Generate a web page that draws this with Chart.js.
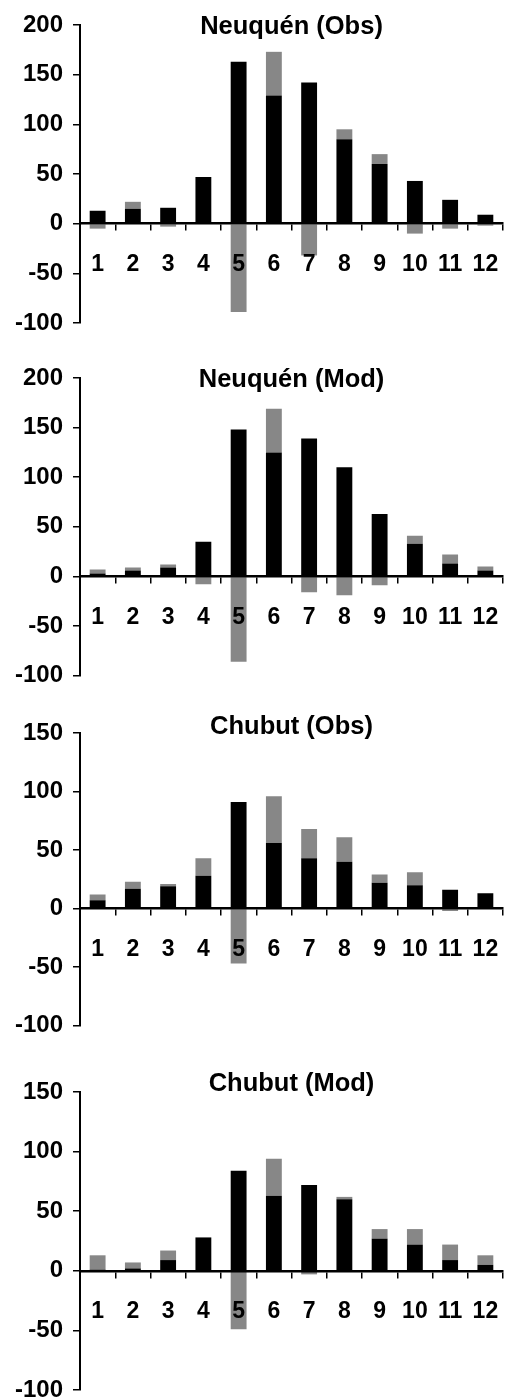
<!DOCTYPE html>
<html lang="en">

<head>
    <meta charset="UTF-8">
    <title>Neuquén / Chubut</title>
    <style>
        html, body { margin: 0; padding: 0; background: #fff; overflow: hidden; }
        .panel { position: absolute; left: 0; width: 505px; }
    </style>
</head>

<body>
    <div class="panel" style="top:0;height:350px"><canvas id="c1"></canvas></div>
    <div class="panel" style="top:350px;height:350px"><canvas id="c2"></canvas></div>
    <div class="panel" style="top:700px;height:350px"><canvas id="c3"></canvas></div>
    <div class="panel" style="top:1050px;height:380px"><canvas id="c4"></canvas></div>

    <script src="https://cdn.jsdelivr.net/npm/chart.js/dist/chart.umd.min.js"></script>
    <script>
        const months = ['1', '2', '3', '4', '5', '6', '7', '8', '9', '10', '11', '12'];

        const neuquenObsBlack = [13, 15, 16, 47, 163, 129, 142, 85, 60, 43, 24, 9];
        const neuquenObsGrey = [-5, 7, -3, 0, -89, 44, -32, 10, 10, -10, -5, -2];

        const neuquenModBlack = [3, 6, 9, 35, 148, 125, 139, 110, 63, 33, 13, 6];
        const neuquenModGrey = [4, 3, 3, -8, -86, 44, -16, -19, -9, 8, 9, 4];

        const chubutObsBlack = [7, 17, 19, 28, 91, 56, 43, 40, 22, 20, 16, 13];
        const chubutObsGrey = [5, 6, 2, 15, -47, 40, 25, 21, 7, 11, -2, 0];

        const chubutModBlack = [1, 2, 9, 28, 84, 63, 72, 60, 27, 22, 9, 5];
        const chubutModGrey = [12, 5, 8, 0, -49, 31, -3, 2, 8, 13, 13, 8];

        const FONT = '"Liberation Sans", Arial, sans-serif';

        // title drawn over the plot, centred on the chart area
        const panelTitle = {
            id: 'panelTitle',
            afterDraw(chart, args, opts) {
                const { ctx, chartArea } = chart;
                ctx.save();
                ctx.font = 'bold 25.5px ' + FONT;
                ctx.fillStyle = '#000';
                ctx.textAlign = 'center';
                ctx.textBaseline = 'middle';
                ctx.fillText(opts.text, (chartArea.left + chartArea.right) / 2, opts.y);
                ctx.restore();
            }
        };

        function makePanel(id, title, titleY, black, grey, yMax, padTop, padBottom) {
            return new Chart(document.getElementById(id), {
                type: 'bar',
                data: {
                    labels: months,
                    datasets: [
                        { data: black, backgroundColor: '#000', stack: 's' },
                        { data: grey, backgroundColor: '#878787', stack: 's' }
                    ]
                },
                options: {
                    responsive: true,
                    maintainAspectRatio: false,
                    animation: false,
                    events: [],
                    layout: { padding: { left: 0, right: 2, top: padTop, bottom: padBottom } },
                    datasets: { bar: { categoryPercentage: 1, barPercentage: 0.45 } },
                    plugins: {
                        legend: { display: false },
                        tooltip: { enabled: false },
                        panelTitle: { text: title, y: titleY }
                    },
                    scales: {
                        x: {
                            position: { y: 0 },
                            stacked: true,
                            afterFit(scale) { scale.paddingLeft = 0; scale.paddingRight = 0; },
                            grid: { drawOnChartArea: false, tickLength: 6, color: '#000', lineWidth: 1.5 },
                            border: { display: true, color: '#000', width: 2.5, z: 1 },
                            ticks: { z: 1, color: '#000', padding: 21, font: { family: FONT, size: 23, weight: 'bold' } }
                        },
                        y: {
                            stacked: true,
                            min: -100,
                            max: yMax,
                            afterFit(scale) { scale.width = 80; },
                            grid: { drawOnChartArea: false, tickLength: 7, color: '#000', lineWidth: 1.5 },
                            border: { display: true, color: '#000', width: 2 },
                            ticks: { stepSize: 50, color: '#000', padding: 10, font: { family: FONT, size: 24, weight: 'bold' } }
                        }
                    }
                },
                plugins: [panelTitle]
            });
        }

        makePanel('c1', 'Neuquén (Obs)', 27, neuquenObsBlack, neuquenObsGrey, 200, 25, 27);
        makePanel('c2', 'Neuquén (Mod)', 30, neuquenModBlack, neuquenModGrey, 200, 28, 21);
        makePanel('c3', 'Chubut (Obs)', 27, chubutObsBlack, chubutObsGrey, 150, 33, 17);
        makePanel('c4', 'Chubut (Mod)', 34, chubutModBlack, chubutModGrey, 150, 42, 40);
    </script>
</body>

</html>
